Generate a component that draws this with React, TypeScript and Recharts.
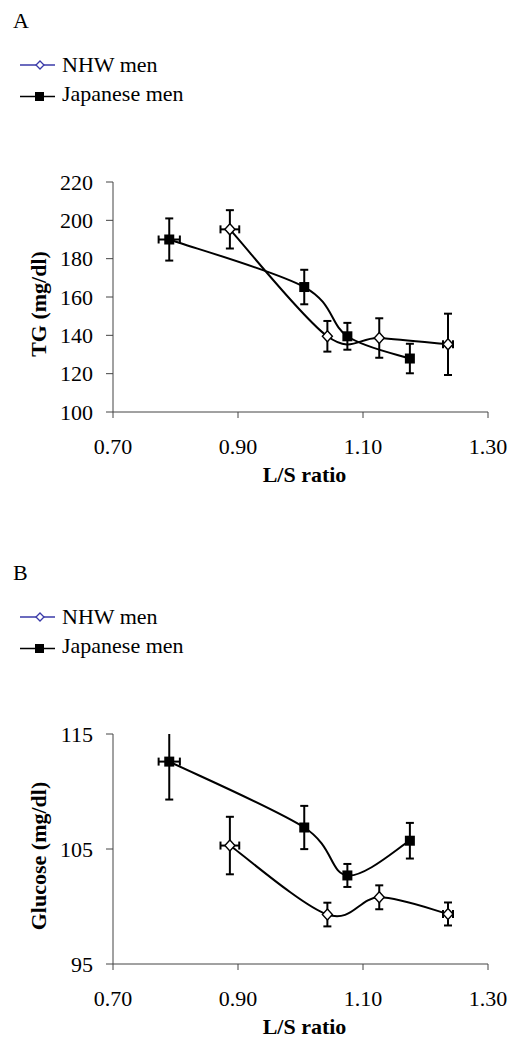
import React from "react"
import { ScatterChart, Scatter, XAxis, YAxis, ErrorBar, Legend } from "recharts"

// L/S ratio (x) with SEM, same for both panels
const lsNhw = [0.887, 1.043, 1.126, 1.236]
const lsNhwErr = [0.015, 0, 0, 0.008]
const lsJap = [0.79, 1.006, 1.075, 1.175]
const lsJapErr = [0.017, 0, 0, 0]
const lsTicks = [0.7, 0.9, 1.1, 1.3]

// panel A: triglycerides
const tgNhw = [195.3, 139.5, 138.6, 135.3]
const tgNhwErr = [10, 8, 10.3, 16]
const tgJap = [190, 165.2, 139.5, 127.9]
const tgJapErr = [11, 9, 7, 7.7]
const tgTicks = [100, 120, 140, 160, 180, 200, 220]

// panel B: glucose
const gluNhw = [105.3, 99.3, 100.8, 99.35]
const gluNhwErr = [2.5, 1.03, 1.04, 1.0]
const gluJap = [112.6, 106.87, 102.7, 105.72]
const gluJapErr = [3.3, 1.88, 1.0, 1.55]
const gluTicks = [95, 105, 115]

const FONT = "'Liberation Serif', 'Times New Roman', Times, serif"
const NAVY = "#3a3aa8"

// error bars that run past the top of the axis lose their upper cap (excel clips them)
const toRows = (xs: number[], xe: number[], ys: number[], ye: number[], yMax: number) =>
  xs.map((x, i) => {
    const over = ys[i] + ye[i] > yMax
    return {
      x,
      y: ys[i],
      ex: xe[i],
      ey: over ? [ye[i], 0] : ye[i],
      eyTop: over ? [0, yMax - ys[i]] : null,
    }
  })

// excel style smoothed line (catmull-rom drawn as bezier)
const smoothCurve = (ctx: any) => {
  let pts: number[][] = []
  return {
    areaStart() {},
    areaEnd() {},
    lineStart() {
      pts = []
    },
    point(x: number, y: number) {
      pts.push([+x, +y])
    },
    lineEnd() {
      if (!pts.length) return
      ctx.moveTo(pts[0][0], pts[0][1])
      for (let i = 0; i < pts.length - 1; i++) {
        const p0 = pts[i - 1] || pts[i]
        const p1 = pts[i]
        const p2 = pts[i + 1]
        const p3 = pts[i + 2] || p2
        ctx.bezierCurveTo(
          p1[0] + (p2[0] - p0[0]) / 6,
          p1[1] + (p2[1] - p0[1]) / 6,
          p2[0] - (p3[0] - p1[0]) / 6,
          p2[1] - (p3[1] - p1[1]) / 6,
          p2[0],
          p2[1]
        )
      }
    },
  }
}

const Square = (p: any) => <rect x={p.cx - 5} y={p.cy - 5} width={10} height={10} fill="#000" />

const Diamond = (p: any) => (
  <path
    d={`M${p.cx} ${p.cy - 5.5} L${p.cx + 5} ${p.cy} L${p.cx} ${p.cy + 5.5} L${p.cx - 5} ${p.cy} Z`}
    fill="#fff"
    stroke="#000"
    strokeWidth={1.4}
  />
)

function LegendBox({ letter }: { letter: string }) {
  const txt = { fontSize: 22, fontFamily: FONT, fill: "#000" }
  return (
    <svg width={260} height={110} style={{ display: "block" }}>
      <text x={13} y={28} style={txt}>
        {letter}
      </text>
      <line x1={20} x2={55} y1={65} y2={65} stroke={NAVY} strokeWidth={1.5} />
      <path d="M40 61 L44 65 L40 69 L36 65 Z" fill="#fff" stroke={NAVY} strokeWidth={1.3} />
      <text x={62} y={72} style={txt}>
        NHW men
      </text>
      <line x1={20} x2={55} y1={96.5} y2={96.5} stroke="#000" strokeWidth={1.5} />
      <rect x={35} y={92} width={9} height={9} fill="#000" />
      <text x={62} y={101} style={txt}>
        Japanese men
      </text>
    </svg>
  )
}

interface PanelProps {
  letter: string
  yLabel: string
  yTicks: number[]
  nhw: number[]
  nhwErr: number[]
  jap: number[]
  japErr: number[]
  height: number
}

function Panel({ letter, yLabel, yTicks, nhw, nhwErr, jap, japErr, height }: PanelProps) {
  const yMin = yTicks[0]
  const yMax = yTicks[yTicks.length - 1]
  const tickStyle = { fill: "#000", fontSize: 22, fontFamily: FONT }
  const series = [
    { name: "Japanese men", rows: toRows(lsJap, lsJapErr, jap, japErr, yMax), shape: Square },
    { name: "NHW men", rows: toRows(lsNhw, lsNhwErr, nhw, nhwErr, yMax), shape: Diamond },
  ]
  return (
    <ScatterChart width={520} height={height} margin={{ top: 72, right: 32, bottom: height - 412 - 80, left: 0 }}>
      <Legend
        verticalAlign="top"
        align="left"
        layout="horizontal"
        wrapperStyle={{ top: 0, left: 0, width: 260, height: 110 }}
        content={() => <LegendBox letter={letter} />}
      />
      <XAxis
        type="number"
        dataKey="x"
        domain={[0.7, 1.3]}
        ticks={lsTicks}
        interval={0}
        tickFormatter={(v: number) => v.toFixed(2)}
        height={80}
        stroke="#444"
        tickSize={6}
        tickMargin={20}
        tick={tickStyle}
        label={(p: any) => (
          <text
            x={p.viewBox.x + p.viewBox.width / 2 + 4}
            y={p.viewBox.y + 70}
            textAnchor="middle"
            style={{ fontSize: 22, fontWeight: "bold", fontFamily: FONT, fill: "#000" }}
          >
            L/S ratio
          </text>
        )}
      />
      <YAxis
        type="number"
        dataKey="y"
        domain={[yMin, yMax]}
        ticks={yTicks}
        interval={0}
        allowDataOverflow
        width={113}
        stroke="#444"
        tickSize={7}
        tickMargin={13}
        tick={tickStyle}
        label={(p: any) => {
          const cx = p.viewBox.x + 46
          const cy = p.viewBox.y + p.viewBox.height / 2 + 7
          return (
            <text
              x={cx}
              y={cy}
              transform={`rotate(-90 ${cx} ${cy})`}
              textAnchor="middle"
              style={{ fontSize: 22, fontWeight: "bold", fontFamily: FONT, fill: "#000" }}
            >
              {yLabel}
            </text>
          )
        }}
      />
      {series.map((s) => (
        <Scatter
          key={s.name}
          name={s.name}
          data={s.rows}
          line={{ stroke: "#000", strokeWidth: 2 }}
          lineJointType={smoothCurve as any}
          shape={s.shape}
          isAnimationActive={false}
        >
          <ErrorBar dataKey="ey" direction="y" width={4} stroke="#000" strokeWidth={2} />
          <ErrorBar dataKey="eyTop" direction="y" width={0} stroke="#000" strokeWidth={2} />
          <ErrorBar dataKey="ex" direction="x" width={4} stroke="#000" strokeWidth={2} />
        </Scatter>
      ))}
    </ScatterChart>
  )
}

export default function App() {
  return (
    <div style={{ position: "absolute", left: 0, top: 0, width: 520, height: 1048, background: "#fff" }}>
      <div style={{ position: "absolute", left: 0, top: 0 }}>
        <Panel
          letter="A"
          yLabel="TG (mg/dl)"
          yTicks={tgTicks}
          nhw={tgNhw}
          nhwErr={tgNhwErr}
          jap={tgJap}
          japErr={tgJapErr}
          height={500}
        />
      </div>
      <div style={{ position: "absolute", left: 0, top: 552 }}>
        <Panel
          letter="B"
          yLabel="Glucose (mg/dl)"
          yTicks={gluTicks}
          nhw={gluNhw}
          nhwErr={gluNhwErr}
          jap={gluJap}
          japErr={gluJapErr}
          height={496}
        />
      </div>
    </div>
  )
}
